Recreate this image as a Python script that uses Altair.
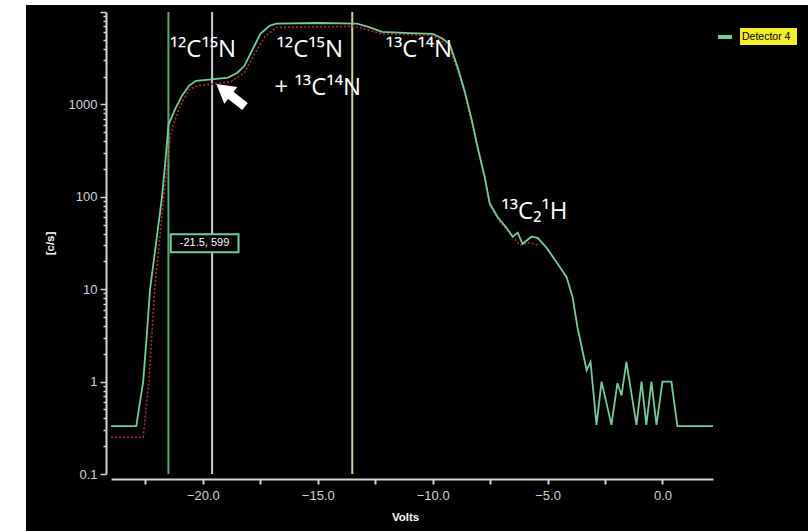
import altair as alt
import pandas as pd

# ---- data ----
volts = [-24.0, -22.9, -22.6, -22.45, -22.3, -22.05, -21.78, -21.6, -21.5, -21.2, -20.9,
         -20.6, -20.3, -19.5, -18.9, -18.5, -18.2, -17.8, -17.5, -17.1, -16.8, -15.0,
         -13.3, -12.8, -12.2, -11.0, -10.0, -9.6, -9.26, -8.91, -8.61, -8.3, -8.04,
         -7.74, -7.52, -7.17, -6.78, -6.52, -6.3, -6.09, -5.7, -5.43, -5.04, -4.57,
         -4.17, -3.91, -3.7, -3.3, -3.13, -2.87, -2.65, -2.22, -1.96, -1.78, -1.57,
         -1.13, -0.91, -0.7, -0.48, -0.26, 0.0, 0.39, 0.65, 2.2]
counts = [0.33, 0.33, 1.0, 3.0, 10, 30, 100, 300, 599, 900, 1250,
          1600, 1800, 1880, 1950, 2200, 2600, 4100, 5800, 7100, 7500, 7600,
          7500, 6900, 6100, 5900, 5800, 5200, 4500, 2500, 1400, 680, 340,
          165, 85, 60, 46, 37, 41, 31, 37, 36, 28, 19,
          13.5, 8.2, 3.9, 1.33, 1.63, 0.34, 1.0, 0.34, 0.96, 0.71, 1.63,
          0.34, 1.0, 0.34, 1.0, 0.34, 1.0, 1.0, 0.33, 0.33]

ref_volts = [-24.0, -22.6, -22.35, -22.1, -21.7, -21.4, -21.0, -20.6, -20.2, -18.8,
             -18.2, -17.7, -17.3, -16.8, -13.4, -12.2, -10.0, -9.3, -8.9, -8.6, -8.3,
             -8.0, -7.7, -7.5, -7.1, -6.7, -6.2, -5.8, -5.4]
ref_counts = [0.25, 0.25, 1.0, 10, 100, 500, 950, 1450, 1600, 1750,
              2200, 3700, 5400, 6800, 7000, 5800, 5600, 4300, 2300, 1300, 620,
              310, 150, 80, 55, 42, 30, 32, 30]

cursor_volts = [-21.5, -19.6, -13.5]
cursor_colors = ["#58aa70", "#cccccc", "#d4cda4"]

ann_text = ["¹²C¹⁵N", "¹²C¹⁵N", "+ ¹³C¹⁴N", "¹³C¹⁴N", "¹³C₂¹H"]
ann_x = [-20.0, -15.35, -15.0, -10.6, -5.57]
ann_y = [3840, 3840, 1490, 3840, 68]

x_ticks = [-22.5, -20, -17.5, -15, -12.5, -10, -7.5, -5, -2.5, 0]
decades = [0.1, 1, 10, 100, 1000]
y_ticks = [d * m for d in decades for m in range(1, 10)] + [10000]

cursor_label = "-21.5, 599"

GREEN = "#74cc98"
AX = "#d4d4d4"

# ---- tables ----
trace = pd.DataFrame({"v": volts, "c": counts})
ref = pd.DataFrame({"v": ref_volts, "c": ref_counts})
cursors = pd.DataFrame({"v": cursor_volts, "col": cursor_colors})
ann = pd.DataFrame({"v": ann_x, "c": ann_y, "t": ann_text})
arrow = pd.DataFrame({"v": [-18.17], "c": [950], "v2": [-19.0], "c2": [1380]})
arrow_head = pd.DataFrame({"v": [-19.1], "c": [1440]})
box = pd.DataFrame({"v": [-21.4], "c": [39.4], "v2": [-18.45], "c2": [25.1],
                    "tv": [-19.93], "tc": [31.4], "t": [cursor_label]})
one = pd.DataFrame({"k": [0]})

xscale = alt.Scale(domain=[-24, 2.2], nice=False, zero=False)
yscale = alt.Scale(type="log", domain=[0.1, 10000], nice=False)

xaxis = alt.Axis(values=x_ticks,
                 labelExpr="datum.value % 5 == 0 ? format(datum.value, '.1f') : ''",
                 grid=False, offset=5, tickSize=5, tickColor=AX, domainColor=AX,
                 domainWidth=2, tickWidth=2, labelColor=AX, labelFont="Liberation Sans",
                 labelFontSize=13, labelPadding=5, title="Volts", titleColor="white",
                 titleFont="Liberation Sans", titleFontSize=11.5, titleFontWeight="bold",
                 titlePadding=9, titleX=294, zindex=2)
yaxis = alt.Axis(values=y_ticks,
                 labelExpr="indexof([0.1,1,10,100,1000], datum.value) >= 0 ? '' + datum.value : ''",
                 grid=False, offset=5,
                 tickSize={"condition": {"test": "indexof([0.1,1,10,100,1000,10000], datum.value) >= 0",
                                         "value": 6}, "value": 3},
                 tickColor=AX, domainColor=AX, domainWidth=2, tickWidth=1.5,
                 labelColor=AX, labelFont="Liberation Sans", labelFontSize=13,
                 labelPadding=3, title="[c/s]", titleColor="white",
                 titleFont="Liberation Sans", titleFontSize=11.5, titleFontWeight="bold",
                 titlePadding=13, zindex=2)


def X(f):
    return alt.X(f, type="quantitative", scale=xscale, axis=xaxis)


def Y(f):
    return alt.Y(f, type="quantitative", scale=yscale, axis=yaxis)


# black backdrop (photo of an instrument screen with a white margin)
bg = alt.Chart(one).mark_rect(color="black").encode(
    x=alt.value(-85), x2=alt.value(697), y=alt.value(-7), y2=alt.value(519))

rules = alt.Chart(cursors).mark_rule(strokeWidth=2).encode(
    x=X("v"), color=alt.Color("col:N", scale=None))

ref_line = alt.Chart(ref).mark_line(color="#a83030", strokeWidth=1.6,
                                    strokeDash=[2, 2]).encode(x=X("v"), y=Y("c"))
main_line = alt.Chart(trace).mark_line(color=GREEN, strokeWidth=1.8).encode(
    x=X("v"), y=Y("c"))

labels = alt.Chart(ann).mark_text(color="white", font="Open Sans", fontSize=24,
                                  align="center", baseline="middle").encode(
    x=X("v"), y=Y("c"), text="t:N")

shaft = alt.Chart(arrow).mark_rule(color="white", strokeWidth=9).encode(
    x=X("v"), y=Y("c"), x2="v2:Q", y2="c2:Q")
head = alt.Chart(arrow_head).mark_point(shape="triangle-up", filled=True, size=450,
                                        angle=308, color="white", opacity=1).encode(
    x=X("v"), y=Y("c"))

box_rect = alt.Chart(box).mark_rect(fill="black", stroke=GREEN, strokeWidth=2).encode(
    x=X("v"), x2="v2:Q", y=Y("c"), y2="c2:Q")
box_text = alt.Chart(box).mark_text(color="white", font="Liberation Sans", fontSize=11,
                                    align="center", baseline="middle").encode(
    x=X("tv"), y=Y("tc"), text="t:N")

leg_dash = alt.Chart(one).mark_rule(color=GREEN, strokeWidth=4).encode(
    x=alt.value(607), x2=alt.value(621), y=alt.value(25))
leg_box = alt.Chart(one).mark_rect(color="#f2ee2a").encode(
    x=alt.value(629), x2=alt.value(686), y=alt.value(16), y2=alt.value(33))
leg_text = alt.Chart(one).mark_text(color="black", font="Liberation Sans", fontSize=10.5,
                                    align="left", baseline="middle",
                                    text="Detector 4").encode(
    x=alt.value(631), y=alt.value(25))

chart = alt.layer(bg, rules, ref_line, main_line, labels, shaft, head, box_rect,
                  box_text, leg_dash, leg_box, leg_text).properties(
    width=602, height=462,
    padding={"left": 111, "top": 12, "right": 95, "bottom": 57},
    autosize=alt.AutoSizeParams(type="none"),
    background="white",
).configure_view(fill="black", stroke="#45894f", strokeWidth=2)

chart.save("out.html", embed_options={"renderer": "svg", "actions": False})
